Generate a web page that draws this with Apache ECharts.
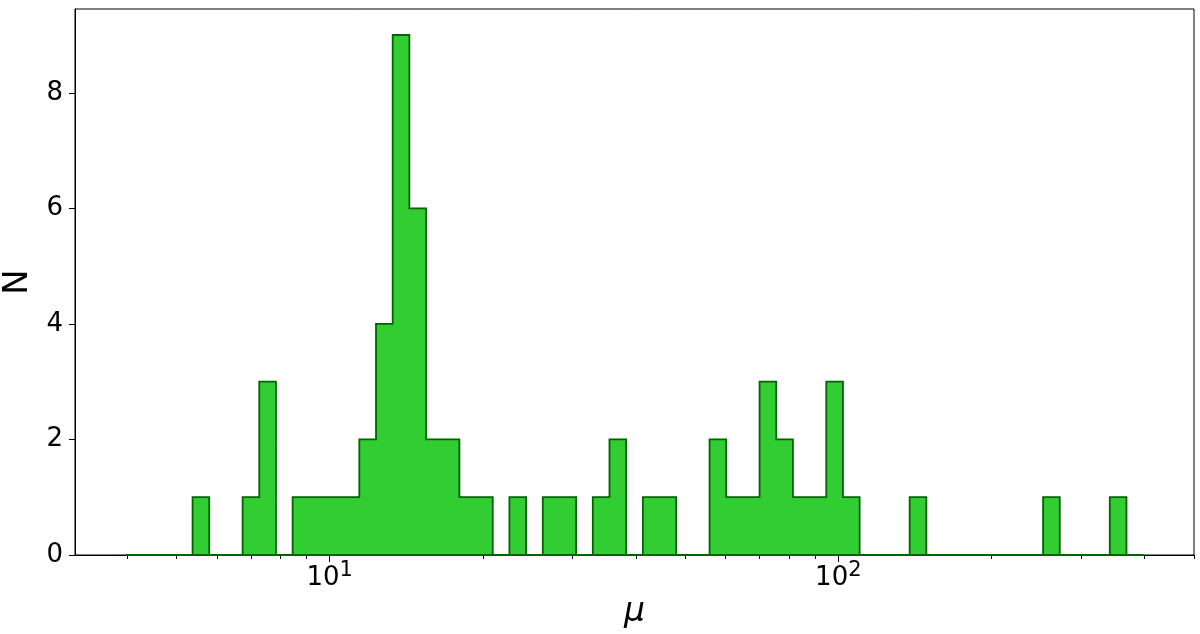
<!DOCTYPE html>
<html>
<head>
<meta charset="utf-8">
<script src="https://cdn.jsdelivr.net/npm/echarts@6/dist/echarts.min.js"></script>
<style>
html,body{margin:0;padding:0;background:#fff;}
#chart{width:1200px;height:634px;}
</style>
</head>
<body>
<div id="chart"></div>
<script>
// Histogram definition (log-spaced bins between the smallest and largest mu)
const MU_MIN = 3.974;
const MU_MAX = 397.4;
const N_BINS = 61;
// Counts per bin
const COUNTS = [0,0,0,0,1,0,0,1,3,0,
                1,1,1,1,2,4,9,6,2,2,
                1,1,0,1,0,1,1,0,1,2,
                0,1,1,0,0,2,1,1,3,2,
                1,1,3,1,0,0,0,1,0,0,
                0,0,0,0,0,1,0,0,0,1,
                0];
// Tick positions / labels
const X_MAJOR = [10, 100];
const X_MINOR = [4,5,6,7,8,9,20,30,40,50,60,70,80,90,200,300,400,500];
const Y_TICKS = [0, 2, 4, 6, 8];

const logSpan = Math.log10(MU_MAX / MU_MIN);
const EDGES = [];
for (let i = 0; i <= N_BINS; i++) EDGES.push(MU_MIN * Math.pow(10, logSpan * i / N_BINS));
const X_MIN = MU_MIN / Math.pow(10, 0.05 * logSpan);
const X_MAX = MU_MAX * Math.pow(10, 0.05 * logSpan);
const Y_MAX = Math.max(...COUNTS) * 1.05;

const FONT = 'DejaVu Sans';
const chart = echarts.init(document.getElementById('chart'));
chart.setOption({
  animation: false,
  backgroundColor: '#fff',
  grid: {left: 75, right: 6, top: 9, bottom: 79, show: true, borderColor: '#000', borderWidth: 1,
         containLabel: false, outerBoundsMode: 'none'},
  xAxis: [{
    type: 'log', logBase: 10, min: X_MIN, max: X_MAX,
    name: 'μ', nameLocation: 'middle', nameGap: 39,
    nameTextStyle: {fontFamily: FONT, fontSize: 33, fontStyle: 'italic', color: '#000'},
    axisLine: {show: true, lineStyle: {color: '#000', width: 1}},
    axisTick: {show: true, length: 7, customValues: X_MAJOR, lineStyle: {color: '#000', width: 1}},
    splitLine: {show: false},
    minorTick: {show: false},
    axisLabel: {
      customValues: X_MAJOR, margin: 5, color: '#000',
      formatter: v => '{b|10}{s|' + Math.round(Math.log10(v)) + '}',
      rich: {
        b: {fontFamily: FONT, fontSize: 26, color: '#000', verticalAlign: 'bottom'},
        s: {fontFamily: FONT, fontSize: 21, color: '#000', verticalAlign: 'bottom', padding: [0, 0, 10, 0]}
      }
    }
  }, {
    type: 'log', logBase: 10, min: X_MIN, max: X_MAX, position: 'bottom',
    axisLine: {show: false},
    axisTick: {show: true, length: 4, customValues: X_MINOR, lineStyle: {color: '#000', width: 1}},
    axisLabel: {show: false},
    splitLine: {show: false}
  }],
  yAxis: {
    type: 'value', min: 0, max: Y_MAX,
    name: 'N', nameLocation: 'middle', nameGap: 27, nameRotate: 90,
    nameTextStyle: {fontFamily: FONT, fontSize: 34, color: '#000'},
    axisLine: {show: true, lineStyle: {color: '#000', width: 1}},
    axisTick: {show: true, length: 6, customValues: Y_TICKS, lineStyle: {color: '#000', width: 1}},
    axisLabel: {customValues: Y_TICKS, margin: 12, fontFamily: FONT, fontSize: 26, color: '#000'},
    splitLine: {show: false}
  },
  series: [{
    type: 'custom',
    xAxisIndex: 0, yAxisIndex: 0,
    data: [[MU_MIN, 0]],
    z: 5,
    renderItem: function (params, api) {
      const pts = [api.coord([EDGES[0], 0])];
      for (let i = 0; i < N_BINS; i++) {
        pts.push(api.coord([EDGES[i], COUNTS[i]]));
        pts.push(api.coord([EDGES[i + 1], COUNTS[i]]));
      }
      pts.push(api.coord([EDGES[N_BINS], 0]));
      return {
        type: 'polygon',
        shape: {points: pts},
        style: {fill: '#32CD32', stroke: '#006400', lineWidth: 1.8, lineJoin: 'miter'}
      };
    }
  }]
});
</script>
</body>
</html>
